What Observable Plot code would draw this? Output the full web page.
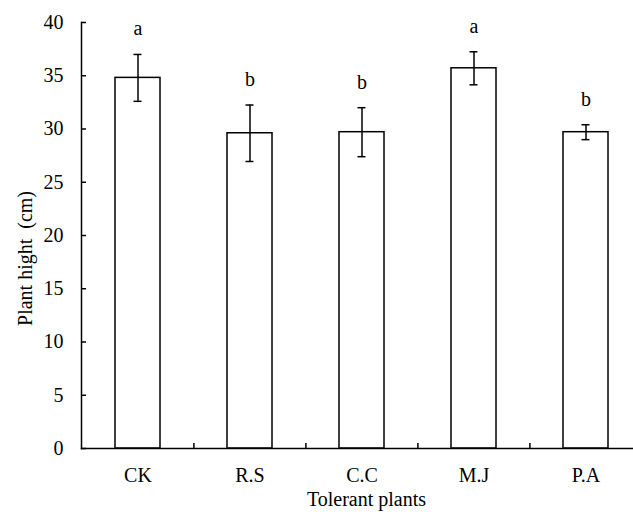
<!DOCTYPE html>
<html>
<head>
<meta charset="utf-8">
<script src="https://cdn.jsdelivr.net/npm/d3@7"></script>
<script src="https://cdn.jsdelivr.net/npm/@observablehq/plot@0.6"></script>
<style>
  html, body { margin: 0; padding: 0; background: #fff; }
  svg { display: block; }
</style>
</head>
<body>
<div id="chart"></div>
<script>
const categories = ["CK", "R.S", "C.C", "M.J", "P.A"];
const means = [34.8, 29.6, 29.7, 35.7, 29.7];
const errors = [2.2, 2.65, 2.3, 1.55, 0.7];
const letters = ["a", "b", "b", "a", "b"];
const yTicks = [0, 5, 10, 15, 20, 25, 30, 35, 40];

const data = categories.map((c, i) => ({
  cat: c, mean: means[i], lo: means[i] - errors[i], hi: means[i] + errors[i], letter: letters[i]
}));

const W = 633, H = 514, ML = 81, MT = 22, MB = 66;
const xRange = [ML, 642];
const step = (xRange[1] - xRange[0]) / categories.length;
const font = "'Liberation Serif', 'Times New Roman', serif";

const chart = Plot.plot({
  width: W,
  height: H,
  marginLeft: ML,
  marginRight: 0,
  marginTop: MT,
  marginBottom: MB,
  style: { fontFamily: font, fontSize: "20px", color: "#000", background: "#fff" },
  x: { type: "band", domain: categories, range: xRange, paddingInner: 0.6, paddingOuter: 0.3 },
  y: { domain: [0, 40], range: [H - MB, MT] },
  marks: [
    Plot.barY(data, { x: "cat", y: "mean", fill: "#fff", stroke: "#000", strokeWidth: 1.5 }),
    Plot.ruleX(data, { x: "cat", y1: "lo", y2: "hi", stroke: "#000", strokeWidth: 1.5 }),
    Plot.tickY(data, { x: "cat", y: "lo", stroke: "#000", strokeWidth: 1.5, insetLeft: 18.5, insetRight: 18.5 }),
    Plot.tickY(data, { x: "cat", y: "hi", stroke: "#000", strokeWidth: 1.5, insetLeft: 18.5, insetRight: 18.5 }),
    Plot.text(data, { x: "cat", y: "hi", text: "letter", lineAnchor: "bottom", dy: -19, fontSize: 20, fill: "#000" }),
    Plot.tickX(categories.slice(1), { x: d => d, dx: -step / 2, insetTop: (H - MB - MT) - 5, stroke: "#000", strokeWidth: 1.5 }),
    Plot.axisY(yTicks, { tickSize: -5, tickPadding: 23, label: null, fontSize: 20, strokeWidth: 1.5 }),
    Plot.axisX({ tickSize: 0, tickPadding: 19, label: null, fontSize: 20 }),
    Plot.frame({ anchor: "left", stroke: "#000", strokeWidth: 1.5 }),
    Plot.frame({ anchor: "bottom", stroke: "#000", strokeWidth: 1.5 }),
    Plot.text(["Plant hight\u00a0\u00a0(cm)"], { frameAnchor: "left", textAnchor: "middle", rotate: -90, dx: -56, dy: 23, fontSize: 20, fill: "#000" }),
    Plot.text(["Tolerant plants"], { frameAnchor: "bottom", textAnchor: "middle", dx: 9, dy: 57, fontSize: 20, fill: "#000" })
  ]
});
document.getElementById("chart").appendChild(chart);
</script>
</body>
</html>
